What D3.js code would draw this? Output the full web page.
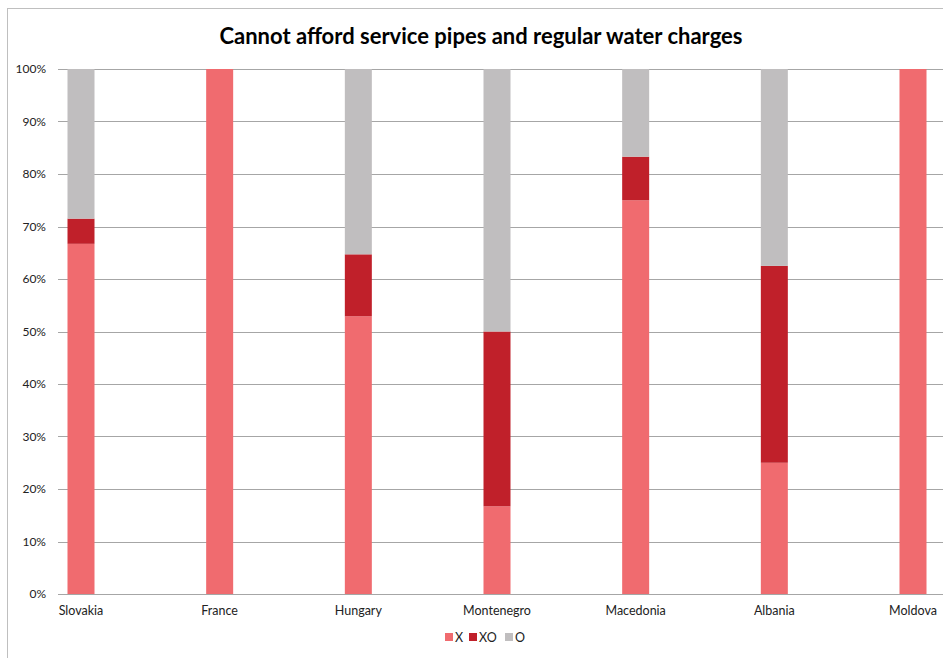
<!DOCTYPE html>
<html><head><meta charset="utf-8">
<script src="https://cdn.jsdelivr.net/npm/d3@7"></script>
<style>body{margin:0;background:#fff}svg{display:block}</style>
</head><body>
<script>
const categories = ["Slovakia","France","Hungary","Montenegro","Macedonia","Albania","Moldova"];
const seriesNames = ["X","XO","O"];
const X  = [0.667, 1.0, 0.529, 0.167, 0.75, 0.25, 1.0];
const XO = [0.048, 0.0, 0.118, 0.333, 0.083, 0.375, 0.0];
const O  = [0.285, 0.0, 0.353, 0.500, 0.167, 0.375, 0.0];
const colors = ["#F06B6F","#C0202A","#C0BEBF"];
const tickValues = [0,0.1,0.2,0.3,0.4,0.5,0.6,0.7,0.8,0.9,1.0];
const title = "Cannot afford service pipes and regular water charges";

const W=943,H=658;
const font = "Lato, 'Open Sans', sans-serif";
const svg = d3.select("body").append("svg").attr("width",W).attr("height",H);
svg.append("rect").attr("x",7.5).attr("y",8.5).attr("width",W).attr("height",H).attr("fill","#fff").attr("stroke","#BFBFBF");

const plotL=58, plotR=943, yTop=69, yBot=594;
const y = d3.scaleLinear().domain([0,1]).range([yBot,yTop]);
const x = d3.scalePoint().domain(categories).range([81,913]);
const bw = 27;

// gridlines
svg.append("g").selectAll("line").data(tickValues).join("line")
  .attr("x1",plotL).attr("x2",plotR)
  .attr("y1",d=>Math.round(y(d))+0.5).attr("y2",d=>Math.round(y(d))+0.5)
  .attr("stroke","#A6A6A6").attr("stroke-width",1);

// y labels
svg.append("g").selectAll("text").data(tickValues).join("text")
  .attr("x",46).attr("y",d=>y(d)+4).attr("text-anchor","end")
  .attr("font-family",font).attr("font-size",12).attr("fill","#222")
  .text(d3.format(".0%"));

const rows = categories.map((c,i)=>({cat:c,X:X[i],XO:XO[i],O:O[i]}));
const stacked = d3.stack().keys(seriesNames)(rows);
svg.append("g").selectAll("g").data(stacked).join("g")
  .attr("fill",(d,i)=>colors[i])
  .selectAll("rect").data(d=>d).join("rect")
  .attr("x",d=>x(d.data.cat)-bw/2).attr("width",bw)
  .attr("y",d=>y(d[1])).attr("height",d=>y(d[0])-y(d[1]));

// category labels
svg.append("g").selectAll("text").data(categories).join("text")
  .attr("x",d=>x(d)).attr("y",615).attr("text-anchor","middle")
  .attr("font-family",font).attr("font-size",12.5).attr("fill","#222")
  .text(d=>d);

// title
svg.append("text").attr("x",481).attr("y",44).attr("text-anchor","middle")
  .attr("font-family",font).attr("font-weight","bold").attr("font-size",22).attr("fill","#000")
  .text(title);

// legend
const legX=[445,469,505];
const lg = svg.append("g").selectAll("g").data(seriesNames).join("g")
  .attr("transform",(d,i)=>`translate(${legX[i]},633)`);
lg.append("rect").attr("width",8).attr("height",8).attr("fill",(d,i)=>colors[i]);
lg.append("text").attr("x",10).attr("y",8.5).attr("font-family",font).attr("font-size",12.5).attr("fill","#222").text(d=>d);
</script>
</body></html>
